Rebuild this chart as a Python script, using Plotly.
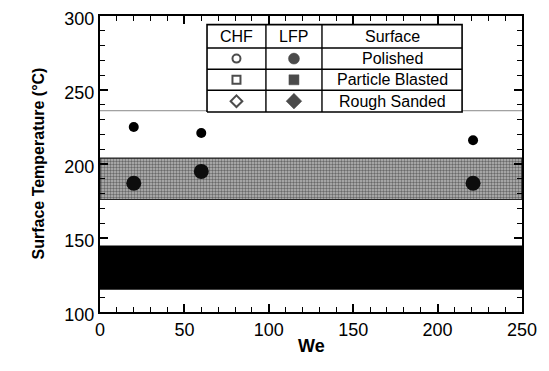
import plotly.graph_objects as go

# ---- data ----
we_points = [20, 60, 221]
t_lfp_polished = [225, 221, 216]
t_chf_blobs = [187, 195, 187]

gray_band = [176, 204]       # stippled band (°C)
black_band = [115, 145]      # solid band (°C)
ref_line_t = 236

x_range = [0, 250]
y_range = [100, 300]

table_headers = ["CHF", "LFP", "Surface"]
table_rows = ["Polished", "Particle Blasted", "Rough Sanded"]
chf_symbols = ["circle-open", "square-open", "diamond-open"]
lfp_symbols = ["circle", "square", "diamond"]

# table geometry (data coords)
tab_x = [63.4, 98.3, 131.5, 214.5]
tab_y = [294.2, 278.4, 264.0, 249.8, 235.1]

FONT = "Liberation Sans, Arial, sans-serif"

fig = go.Figure()


def rect_xy(x0, x1, y0, y1):
    return [x0, x1, x1, x0, x0], [y0, y0, y1, y1, y0]


# gray stippled band
bx, by = rect_xy(x_range[0], x_range[1], gray_band[0], gray_band[1])
fig.add_trace(go.Scatter(
    x=bx, y=by, mode="lines", fill="toself",
    fillcolor="#9a9a9a",
    fillpattern=dict(shape=".", fgcolor="#1a1a1a", bgcolor="#b8b8b8", size=3, solidity=0.5),
    line=dict(color="#222", width=1.2), hoverinfo="skip", showlegend=False))

# black band
bx, by = rect_xy(x_range[0], x_range[1], black_band[0], black_band[1])
fig.add_trace(go.Scatter(x=bx, y=by, mode="lines", fill="toself", fillcolor="black",
                         line=dict(color="black", width=0), hoverinfo="skip", showlegend=False))

# reference line
fig.add_trace(go.Scatter(x=x_range, y=[ref_line_t, ref_line_t], mode="lines",
                         line=dict(color="#888", width=1), hoverinfo="skip", showlegend=False))

# CHF blobs (obscured in band)
fig.add_trace(go.Scatter(x=we_points, y=t_chf_blobs, mode="markers",
                         marker=dict(symbol="circle", size=15, color="#0d0d0d", line=dict(width=0)),
                         showlegend=False, hoverinfo="skip"))

# LFP polished
fig.add_trace(go.Scatter(x=we_points, y=t_lfp_polished, mode="markers",
                         marker=dict(symbol="circle", size=10, color="black"),
                         showlegend=False))

# ---- table legend (as traces, so markers sit on top) ----
tx, ty = rect_xy(tab_x[0], tab_x[-1], tab_y[-1], tab_y[0])
fig.add_trace(go.Scatter(x=tx, y=ty, mode="lines", fill="toself", fillcolor="white",
                         line=dict(color="black", width=1.6), hoverinfo="skip", showlegend=False))
gx, gy = [], []
for xv in tab_x[1:-1]:
    gx += [xv, xv, None]
    gy += [tab_y[-1], tab_y[0], None]
for yv in tab_y[1:-1]:
    gx += [tab_x[0], tab_x[-1], None]
    gy += [yv, yv, None]
fig.add_trace(go.Scatter(x=gx, y=gy, mode="lines", line=dict(color="black", width=1.4),
                         hoverinfo="skip", showlegend=False))

col_c = [(tab_x[i] + tab_x[i + 1]) / 2 for i in range(3)]
row_c = [(tab_y[i] + tab_y[i + 1]) / 2 for i in range(4)]

fig.add_trace(go.Scatter(x=[col_c[0]] * 3, y=row_c[1:], mode="markers",
                         marker=dict(symbol=chf_symbols, size=[8, 8, 9], color="black",
                                     line=dict(color="black", width=2)),
                         showlegend=False, hoverinfo="skip"))
fig.add_trace(go.Scatter(x=[col_c[1]] * 3, y=row_c[1:], mode="markers",
                         marker=dict(symbol=lfp_symbols, size=[11, 10, 12], color="black",
                                     line=dict(color="black", width=0.5)),
                         showlegend=False, hoverinfo="skip"))

annotations = []
for i, h in enumerate(table_headers):
    annotations.append(dict(x=col_c[i], y=row_c[0], xref="x", yref="y", text=h,
                            showarrow=False, font=dict(family=FONT, size=16, color="black")))
for r, name in enumerate(table_rows):
    annotations.append(dict(x=col_c[2], y=row_c[r + 1], xref="x", yref="y", text=name,
                            showarrow=False, font=dict(family=FONT, size=16, color="black")))

# axis titles as annotations (fixed positions)
annotations.append(dict(x=0.5, y=0, xref="paper", yref="paper", yshift=-46,
                        text="<b>We</b>", showarrow=False,
                        font=dict(family=FONT, size=18, color="black")))
annotations.append(dict(x=0, y=0.5, xref="paper", yref="paper", xshift=-73,
                        text="<b>Surface Temperature (°C)</b>", showarrow=False, textangle=-90,
                        font=dict(family=FONT, size=16, color="black")))

axis_common = dict(
    showline=True, linecolor="black", linewidth=2, mirror="allticks",
    ticks="inside", ticklen=8, tickwidth=1.5, tickcolor="black",
    showgrid=False, zeroline=False, automargin=False, ticklabeloverflow="allow",
    tickfont=dict(family=FONT, size=18, color="black"),
    minor=dict(ticks="inside", ticklen=5, tickwidth=1.2, tickcolor="black",
               showgrid=False, dtick=10),
)

# the page body has an 8px default margin; keep figure + margins inside the window
fig.update_layout(
    width=533, height=355,
    margin=dict(l=92, r=19, t=8, b=51),
    paper_bgcolor="white", plot_bgcolor="white",
    annotations=annotations,
    xaxis=dict(range=x_range, tick0=0, dtick=50, **axis_common),
    yaxis=dict(range=y_range, tick0=100, dtick=50, ticklabelshift=3, **axis_common),
)

fig.write_html("out.html")
